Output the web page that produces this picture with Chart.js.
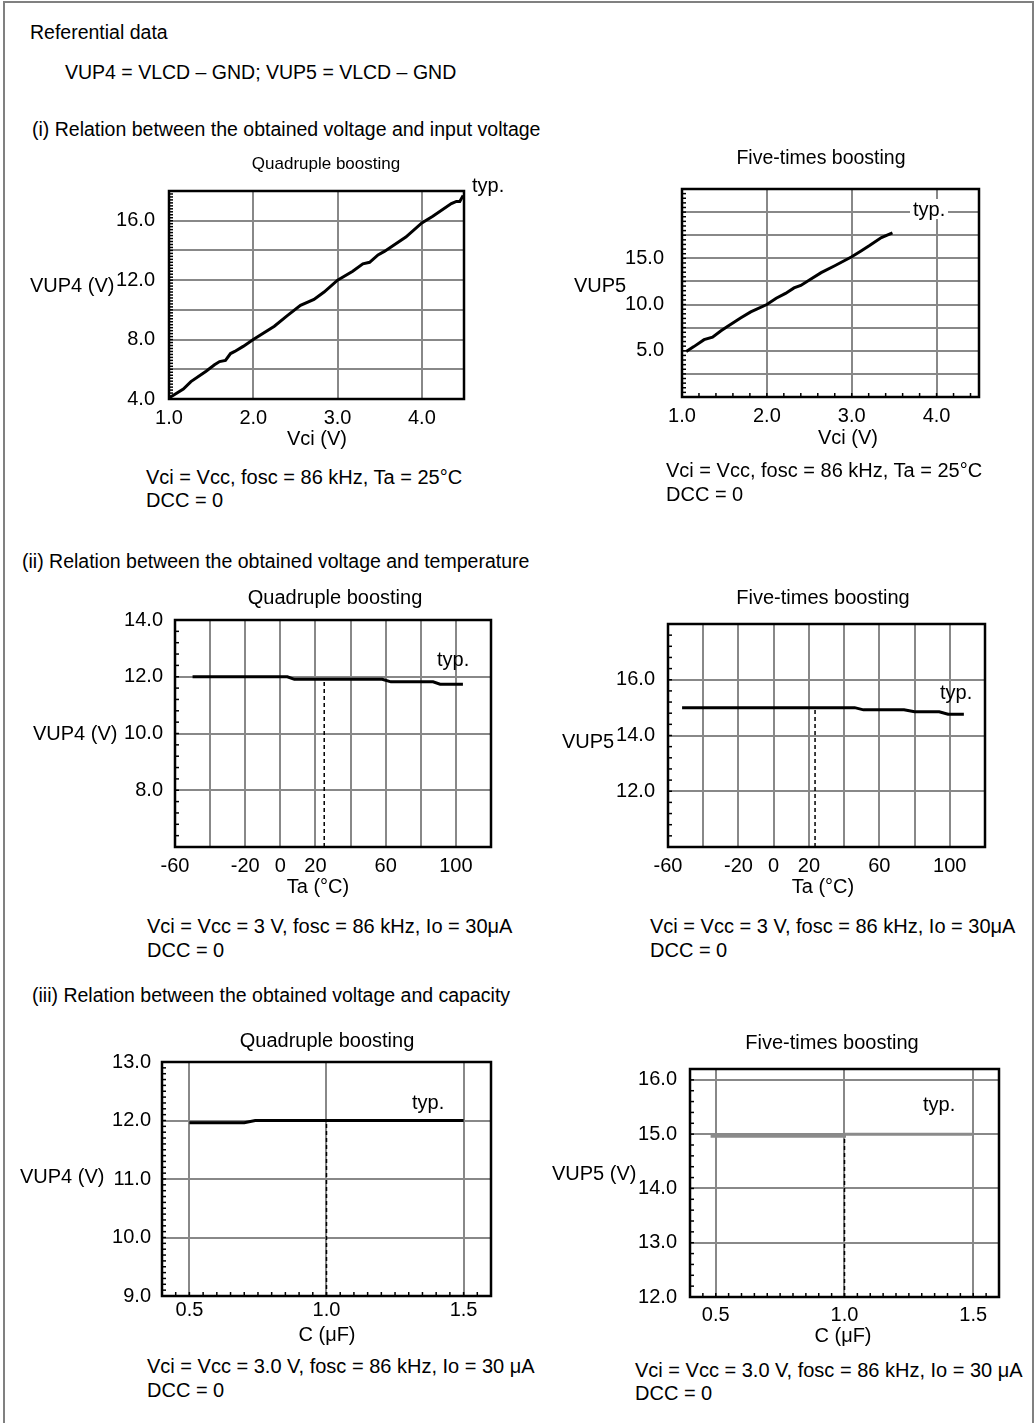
<!DOCTYPE html>
<html>
<head>
<meta charset="utf-8">
<script src="https://cdn.jsdelivr.net/npm/chart.js@4.4.1/dist/chart.umd.min.js"></script>
<style>
body { margin: 0; background: #fff; }
#page { position: relative; width: 1035px; height: 1423px; overflow: hidden; font-family: 'Liberation Sans', Arial, sans-serif; color: #000; }
#edge { position: absolute; left: 3px; top: 1px; width: 1027px; height: 1440px; border: 2px solid #808080; }
canvas { position: absolute; }
.t { position: absolute; white-space: nowrap; line-height: 1; transform: translateY(-50%); font-size: 20px; }
.c { transform: translate(-50%, -50%); }
.h { font-size: 19.5px; }
.typ { font-size: 20px; }
.bg { background: #fff; padding: 0 3px; }
</style>
</head>
<body>
<div id="page">
<div id="edge"></div>

<canvas id="quad_vci_chart"></canvas>
<canvas id="five_vci_chart"></canvas>
<canvas id="quad_ta_chart"></canvas>
<canvas id="five_ta_chart"></canvas>
<canvas id="quad_c_chart"></canvas>
<canvas id="five_c_chart"></canvas>

<div class="t h" style="left:30px; top:33px">Referential data</div>
<div class="t h" style="left:65px; top:73px">VUP4 = VLCD – GND; VUP5 = VLCD – GND</div>

<!-- (i) -->
<div class="t h" style="left:32px; top:130px">(i) Relation between the obtained voltage and input voltage</div>
<div class="t c" style="left:326px; top:163px; font-size:17px">Quadruple boosting</div>
<div class="t h c" style="left:821px; top:158px">Five-times boosting</div>
<div class="t" style="left:30px; top:285px">VUP4 (V)</div>
<div class="t" style="left:574px; top:285px">VUP5</div>
<div class="t c" style="left:317px; top:438px">Vci (V)</div>
<div class="t c" style="left:848px; top:437px">Vci (V)</div>
<div class="t typ" style="left:472px; top:185px">typ.</div>
<div class="t typ bg" style="left:910px; top:209px">typ.</div>
<div class="t" style="left:146px; top:477px">Vci = Vcc, fosc = 86 kHz, Ta = 25°C</div>
<div class="t" style="left:146px; top:500px">DCC = 0</div>
<div class="t" style="left:666px; top:470px">Vci = Vcc, fosc = 86 kHz, Ta = 25°C</div>
<div class="t" style="left:666px; top:494px">DCC = 0</div>

<!-- (ii) -->
<div class="t h" style="left:22px; top:562px">(ii) Relation between the obtained voltage and temperature</div>
<div class="t c" style="left:335px; top:597px">Quadruple boosting</div>
<div class="t c" style="left:823px; top:597px">Five-times boosting</div>
<div class="t" style="left:33px; top:733px">VUP4 (V)</div>
<div class="t" style="left:562px; top:741px">VUP5</div>
<div class="t c" style="left:318px; top:886px">Ta (°C)</div>
<div class="t c" style="left:823px; top:886px">Ta (°C)</div>
<div class="t typ" style="left:437px; top:659px">typ.</div>
<div class="t typ" style="left:940px; top:692px">typ.</div>
<div class="t" style="left:147px; top:926px">Vci = Vcc = 3 V, fosc = 86 kHz, Io = 30μA</div>
<div class="t" style="left:147px; top:950px">DCC = 0</div>
<div class="t" style="left:650px; top:926px">Vci = Vcc = 3 V, fosc = 86 kHz, Io = 30μA</div>
<div class="t" style="left:650px; top:950px">DCC = 0</div>

<!-- (iii) -->
<div class="t h" style="left:32px; top:996px">(iii) Relation between the obtained voltage and capacity</div>
<div class="t c" style="left:327px; top:1040px">Quadruple boosting</div>
<div class="t c" style="left:832px; top:1042px">Five-times boosting</div>
<div class="t" style="left:20px; top:1176px">VUP4 (V)</div>
<div class="t" style="left:552px; top:1173px">VUP5 (V)</div>
<div class="t c" style="left:327px; top:1334px">C (μF)</div>
<div class="t c" style="left:843px; top:1335px">C (μF)</div>
<div class="t typ" style="left:412px; top:1102px">typ.</div>
<div class="t typ" style="left:923px; top:1104px">typ.</div>
<div class="t" style="left:147px; top:1366px">Vci = Vcc = 3.0 V, fosc = 86 kHz, Io = 30 μA</div>
<div class="t" style="left:147px; top:1390px">DCC = 0</div>
<div class="t" style="left:635px; top:1370px">Vci = Vcc = 3.0 V, fosc = 86 kHz, Io = 30 μA</div>
<div class="t" style="left:635px; top:1393px">DCC = 0</div>
</div>

<script>
// (i) obtained voltage vs input voltage
const quad_vci = [1.0, 1.17, 1.26, 1.44, 1.54, 1.6, 1.67, 1.73, 1.78, 1.88, 2.0, 2.25, 2.4, 2.56, 2.72, 2.84, 3.0, 3.18, 3.3, 3.38, 3.48, 3.56, 3.81, 4.0, 4.13, 4.35, 4.41, 4.45, 4.49]
const quad_vci_vup4 = [4.07, 4.67, 5.17, 5.87, 6.3, 6.52, 6.6, 7.06, 7.2, 7.54, 8.0, 8.9, 9.6, 10.3, 10.7, 11.2, 12.0, 12.6, 13.1, 13.2, 13.7, 13.95, 14.9, 15.85, 16.3, 17.15, 17.3, 17.3, 17.7]
const five_vci = [1.05, 1.14, 1.26, 1.36, 1.46, 1.54, 1.69, 1.81, 2.0, 2.11, 2.22, 2.32, 2.4, 2.52, 2.64, 2.8, 3.0, 3.11, 3.21, 3.35, 3.48]
const five_vci_vup5 = [4.93, 5.45, 6.2, 6.48, 7.17, 7.66, 8.55, 9.2, 10.0, 10.69, 11.2, 11.8, 12.07, 12.76, 13.45, 14.2, 15.17, 15.8, 16.38, 17.24, 17.76]

// (ii) obtained voltage vs temperature
const quad_ta = [-50, 4, 8, 58, 63, 87, 91, 104]
const quad_ta_vup4 = [12.0, 12.0, 11.91, 11.91, 11.82, 11.82, 11.74, 11.74]
const five_ta = [-52, 46, 51, 74, 80, 94, 99, 108]
const five_ta_vup5 = [15.0, 15.0, 14.92, 14.92, 14.85, 14.85, 14.76, 14.76]

// (iii) obtained voltage vs capacity
const quad_c = [0.5, 0.7, 0.74, 1.5]
const quad_c_vup4 = [11.96, 11.96, 12.0, 12.0]
const five_c = [0.48, 1.0, 1.0, 1.5]
const five_c_vup5 = [14.96, 14.96, 15.0, 15.0]

// dashed markers (x, from axis bottom up to the curve)
const quad_ta_mark = [25, 25]
const quad_ta_mark_v = [6, 11.91]
const five_ta_mark = [23.5, 23.5]
const five_ta_mark_v = [10, 15.0]
const quad_c_mark = [1.0, 1.0]
const quad_c_mark_v = [9, 12.0]
const five_c_mark = [1.0, 1.0]
const five_c_mark_v = [12, 14.96]

// axis ranges, grid lines, labelled ticks
const vci_range = [1.0, 4.5]
const vci_grid = [1, 2, 3, 4]
const vci_labels = [1, 2, 3, 4]
const quad_vci_range = [4, 18]
const quad_vci_grid = [4, 6, 8, 10, 12, 14, 16, 18]
const quad_vci_labels = [4, 8, 12, 16]
const five_vci_range = [0, 22.5]
const five_vci_grid = [0, 2.5, 5, 7.5, 10, 12.5, 15, 17.5, 20, 22.5]
const five_vci_labels = [5, 10, 15]

const ta_range = [-60, 120]
const ta_grid = [-60, -40, -20, 0, 20, 40, 60, 80, 100, 120]
const ta_labels = [-60, -20, 0, 20, 60, 100]
const quad_ta_range = [6, 14]
const quad_ta_grid = [6, 8, 10, 12, 14]
const quad_ta_labels = [8, 10, 12, 14]
const five_ta_range = [10, 18]
const five_ta_grid = [10, 12, 14, 16, 18]
const five_ta_labels = [12, 14, 16]

const c_range = [0.4, 1.6]
const c_grid = [0.5, 1.0, 1.5]
const c_labels = [0.5, 1.0, 1.5]
const quad_c_range = [9, 13]
const quad_c_grid = [9, 10, 11, 12, 13]
const quad_c_labels = [9, 10, 11, 12, 13]
const five_c_range = [12, 16.2]
const five_c_grid = [12, 13, 14, 15, 16]
const five_c_labels = [12, 13, 14, 15, 16]

Chart.defaults.font.family = "'Liberation Sans', Arial, sans-serif"
Chart.defaults.color = '#000'

// black frame round the plot and small inner minor ticks
const frame_plugin = {
    id: 'frame',
    afterDatasetsDraw(chart, args, opts) {
        let ctx = chart.ctx
        let a = chart.chartArea
        ctx.save()
        ctx.strokeStyle = '#000'
        ctx.lineWidth = 1.5
        if (opts.minor_y) {
            let sc = chart.scales.y
            let n = Math.round((sc.max - sc.min) / opts.minor_y)
            for (let i = 1; i < n; i++) {
                let p = sc.getPixelForValue(sc.min + i * opts.minor_y)
                ctx.beginPath()
                ctx.moveTo(a.left, p)
                ctx.lineTo(a.left + 4, p)
                ctx.stroke()
            }
        }
        if (opts.minor_x) {
            let sc = chart.scales.x
            let n = Math.round((sc.max - sc.min) / opts.minor_x)
            for (let i = 1; i < n; i++) {
                let p = sc.getPixelForValue(sc.min + i * opts.minor_x)
                ctx.beginPath()
                ctx.moveTo(p, a.bottom)
                ctx.lineTo(p, a.bottom - 4)
                ctx.stroke()
            }
        }
        ctx.lineWidth = 2.5
        ctx.strokeRect(a.left, a.top, a.right - a.left, a.bottom - a.top)
        ctx.restore()
    }
}

function to_points(xs, ys) {
    return xs.map((x, i) => ({ x: x, y: ys[i] }))
}

function axis(range, grid, labels, digits, pad, is_x) {
    return {
        type: 'linear',
        min: range[0],
        max: range[1],
        afterBuildTicks: (s) => { s.ticks = grid.map(v => ({ value: v })) },
        afterFit: (s) => { if (is_x) s.height = 40; else s.width = 70 },
        grid: { color: '#888', lineWidth: 2, drawTicks: false },
        border: { display: false },
        ticks: {
            autoSkip: false,
            maxRotation: 0,
            padding: pad,
            font: { size: 20 },
            callback: (v) => labels.includes(v) ? v.toFixed(digits) : ''
        }
    }
}

// box = plot area on the page [left, top, right, bottom]
function make_chart(id, box, p) {
    let canvas = document.getElementById(id)
    canvas.width = box[2] - box[0] + 70 + 20
    canvas.height = box[3] - box[1] + 20 + 40
    canvas.style.left = (box[0] - 70) + 'px'
    canvas.style.top = (box[1] - 20) + 'px'

    let datasets = [{
        data: to_points(p.xs, p.ys),
        borderColor: p.color || '#000',
        borderWidth: 3,
        pointRadius: 0
    }]
    if (p.mark_x) {
        datasets.push({
            data: to_points(p.mark_x, p.mark_y),
            borderColor: '#000',
            borderWidth: 1.5,
            borderDash: [4, 3],
            pointRadius: 0
        })
    }

    new Chart(canvas, {
        type: 'line',
        data: { datasets: datasets },
        options: {
            responsive: false,
            animation: false,
            layout: { padding: { top: 20, right: 20, left: 0, bottom: 0 } },
            scales: {
                x: axis(p.x_range, p.x_grid, p.x_labels, p.x_digits, p.x_pad, true),
                y: axis(p.y_range, p.y_grid, p.y_labels, 1, p.y_pad, false)
            },
            plugins: {
                legend: { display: false },
                tooltip: { enabled: false },
                frame: { minor_x: p.minor_x, minor_y: p.minor_y }
            }
        },
        plugins: [frame_plugin]
    })
}

make_chart('quad_vci_chart', [169, 185, 464, 399], {
    xs: quad_vci, ys: quad_vci_vup4,
    x_range: vci_range, x_grid: vci_grid, x_labels: vci_labels, x_digits: 1, x_pad: 7,
    y_range: quad_vci_range, y_grid: quad_vci_grid, y_labels: quad_vci_labels, y_pad: 14,
    minor_y: 0.2
})

make_chart('five_vci_chart', [682, 179, 979, 397], {
    xs: five_vci, ys: five_vci_vup5,
    x_range: vci_range, x_grid: vci_grid, x_labels: vci_labels, x_digits: 1, x_pad: 7,
    y_range: five_vci_range, y_grid: five_vci_grid, y_labels: five_vci_labels, y_pad: 18,
    minor_x: 0.2, minor_y: 0.5
})

make_chart('quad_ta_chart', [175, 616, 491, 847], {
    xs: quad_ta, ys: quad_ta_vup4, mark_x: quad_ta_mark, mark_y: quad_ta_mark_v,
    x_range: ta_range, x_grid: ta_grid, x_labels: ta_labels, x_digits: 0, x_pad: 7,
    y_range: quad_ta_range, y_grid: quad_ta_grid, y_labels: quad_ta_labels, y_pad: 12,
    minor_y: 0.4
})

make_chart('five_ta_chart', [668, 619, 985, 847], {
    xs: five_ta, ys: five_ta_vup5, mark_x: five_ta_mark, mark_y: five_ta_mark_v,
    x_range: ta_range, x_grid: ta_grid, x_labels: ta_labels, x_digits: 0, x_pad: 7,
    y_range: five_ta_range, y_grid: five_ta_grid, y_labels: five_ta_labels, y_pad: 13,
    minor_y: 0.4
})

make_chart('quad_c_chart', [162, 1059, 491, 1296], {
    xs: quad_c, ys: quad_c_vup4, mark_x: quad_c_mark, mark_y: quad_c_mark_v,
    x_range: c_range, x_grid: c_grid, x_labels: c_labels, x_digits: 1, x_pad: 2,
    y_range: quad_c_range, y_grid: quad_c_grid, y_labels: quad_c_labels, y_pad: 11,
    minor_x: 0.05, minor_y: 0.1
})

make_chart('five_c_chart', [690, 1064, 999, 1297], {
    xs: five_c, ys: five_c_vup5, mark_x: five_c_mark, mark_y: five_c_mark_v, color: '#8a8a8a',
    x_range: c_range, x_grid: c_grid, x_labels: c_labels, x_digits: 1, x_pad: 6,
    y_range: five_c_range, y_grid: five_c_grid, y_labels: five_c_labels, y_pad: 13,
    minor_x: 0.05, minor_y: 0.2
})
</script>
</body>
</html>
